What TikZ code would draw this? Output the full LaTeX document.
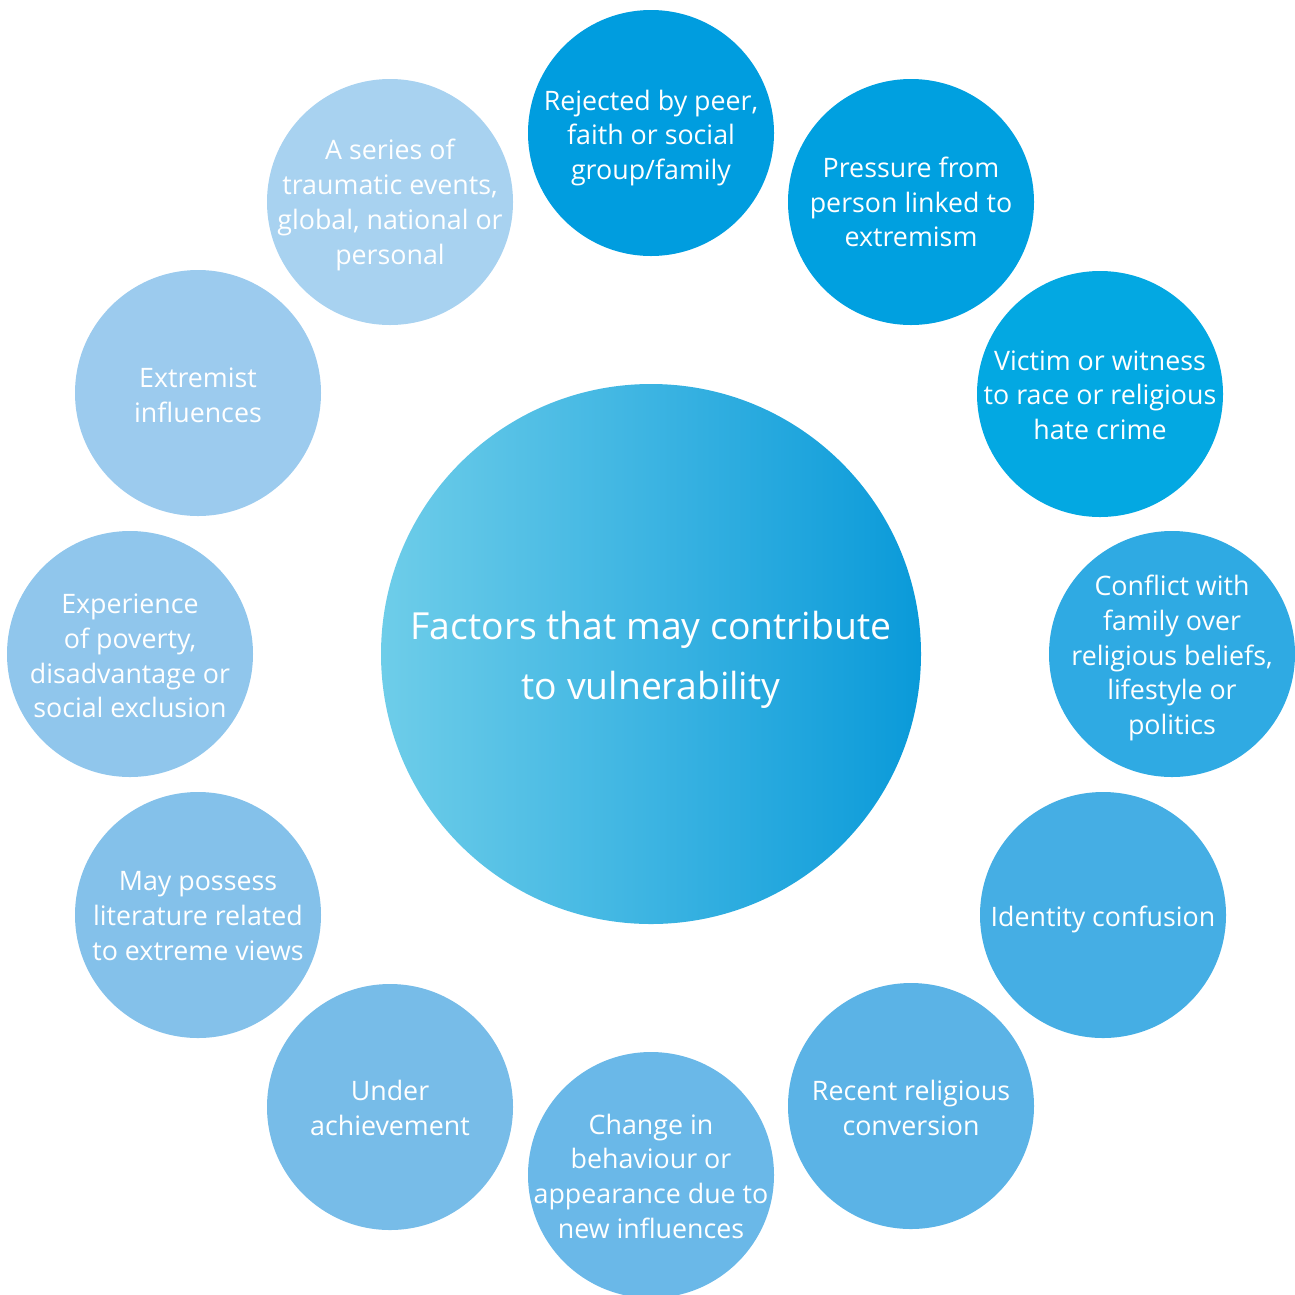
\documentclass[tikz,border=0pt]{standalone}
\usepackage{fontspec}
\setmainfont{Open Sans}
\usetikzlibrary{shadings}
\definecolor{c1}{HTML}{009DDF}
\definecolor{c2}{HTML}{00A0E0}
\definecolor{c3}{HTML}{03A8E2}
\definecolor{c4}{HTML}{2FAAE3}
\definecolor{c5}{HTML}{45AEE4}
\definecolor{c6}{HTML}{5BB3E6}
\definecolor{c7}{HTML}{6AB8E8}
\definecolor{c8}{HTML}{77BCE8}
\definecolor{c9}{HTML}{84C1EA}
\definecolor{c10}{HTML}{90C6EC}
\definecolor{c11}{HTML}{9CCBEE}
\definecolor{c12}{HTML}{A8D2F0}
\definecolor{gl}{HTML}{6ECDE9}
\definecolor{gm}{HTML}{3CB4E2}
\definecolor{gr}{HTML}{0A9AD9}
\tikzset{
  factor/.style={inner sep=0pt, text=white,
    align=center, font=\fontsize{26.8}{34.7}\selectfont},
  centretext/.style={inner sep=0pt, text=white, align=center,
    font=\fontsize{37.3}{60}\selectfont},
}
% #1 colour, #2 x, #3 y, #4 name, #5 text shift, #6 text
\newcommand{\factorcircle}[6]{%
  \fill[#1] (#2,#3) circle (123);
  \node[factor] (#4) at (#2,#3+#5) {#6};
}
\begin{document}
\begin{tikzpicture}[x=1pt,y=-1pt]
\useasboundingbox (0,0) rectangle (1295,1294);
\shade[left color=gl, right color=gr, middle color=gm, shading=axis] (651,654) circle (270);
\node[centretext] (center) at (651,660) {Factors that may contribute\\to vulnerability};
\factorcircle{c1}{651}{133}{f1}{5}{Rejected by peer,\\faith or social\\group/family}
\factorcircle{c2}{911}{202}{f2}{0}{Pressure from\\person linked to\\extremism}
\factorcircle{c3}{1100}{394}{f3}{1}{Victim or witness\\to race or religious\\hate crime}
\factorcircle{c4}{1172}{654}{f4}{4}{Conflict with\\family over\\religious beliefs,\\lifestyle or\\politics}
\factorcircle{c5}{1103}{915}{f5}{4}{Identity confusion}
\factorcircle{c6}{911}{1106}{f6}{2}{Recent religious\\conversion}
\factorcircle{c7}{651}{1175}{f7}{1}{Change in\\behaviour or\\appearance due to\\new influences}
\factorcircle{c8}{390}{1107}{f8}{1}{Under\\achievement}
\factorcircle{c9}{198}{915}{f9}{1}{May possess\\literature related\\to extreme views}
\factorcircle{c10}{130}{654}{f10}{2}{Experience\\of poverty,\\disadvantage or\\social exclusion}
\factorcircle{c11}{198}{393}{f11}{2}{Extremist\\influences}
\factorcircle{c12}{390}{202}{f12}{3}{A series of\\traumatic events,\\global, national or\\personal}
\end{tikzpicture}
\end{document}
